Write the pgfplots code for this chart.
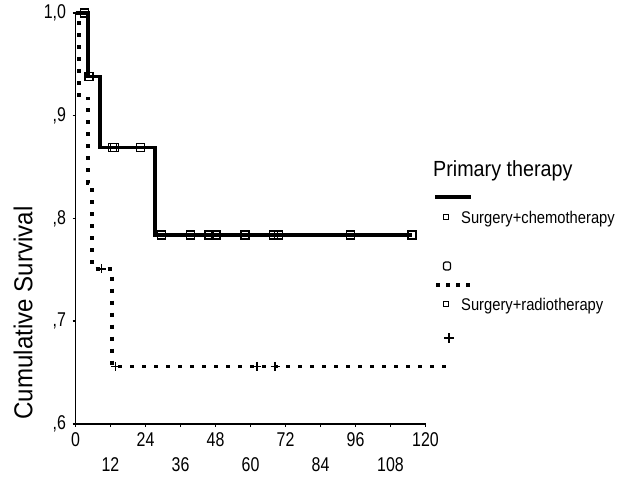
\documentclass[border=0pt]{standalone}
\usepackage{fontspec}
\setmainfont{Liberation Sans}
\newfontfamily\tickf[FakeStretch=0.8]{Liberation Sans}
\newfontfamily\legf[FakeStretch=0.87]{Liberation Sans}
\newfontfamily\titf[FakeStretch=0.9]{Liberation Sans}
\newfontfamily\labf[FakeStretch=0.93]{Liberation Sans}
\usepackage{pgfplots}
\pgfplotsset{compat=1.18}
\begin{document}
\begin{tikzpicture}[x=1bp,y=1bp]
\useasboundingbox (0,0) rectangle (633,477);
\begin{axis}[
  at={(75.5bp,53bp)}, anchor=south west,
  scale only axis, width=350bp, height=411bp,
  xmin=0, xmax=120, ymin=0.6, ymax=1.0,
  clip=false,
  axis x line*=bottom, axis y line*=left,
  axis line style={-, line width=1.2bp, black},
  xtick={0,24,...,120},
  extra x ticks={12,36,...,108},
  extra x tick style={xticklabel style={yshift=-25bp}},
  ytick={0.6,0.7,0.8,0.9,1.0},
  yticklabels={{,6},{,7},{,8},{,9},{1,0}},
  tick align=outside,
  major tick length=3bp,
  tick style={line width=1.5bp, black},
  /pgf/number format/assume math mode=true,
  xticklabel style={font=\tickf\fontsize{20}{20}\selectfont, yshift=-2bp},
  yticklabel style={font=\tickf\fontsize{20}{20}\selectfont, xshift=-3bp},
  every axis plot/.append style={line join=miter},
]
% Surgery + chemotherapy (solid)
\addplot[const plot, black, line width=3.5bp] coordinates {
  (0,1.0) (4.3,0.938) (8.4,0.869) (27.3,0.784) (115.4,0.784)
};
\addplot[only marks, mark=square, mark size=4bp,
  mark options={black, line width=1.2bp, rounded corners=2bp}] coordinates {
  (3,1.0) (4.6,0.938) (12.6,0.869) (13.3,0.869) (22.4,0.869)
  (29.4,0.784) (39.3,0.784) (45.8,0.784) (48.2,0.784) (58.1,0.784)
  (68.0,0.784) (69.7,0.784) (94.4,0.784) (115.4,0.784)
};
% Surgery + radiotherapy (dotted)
\addplot[const plot, black, line width=3.5bp, dash pattern=on 4bp off 8bp] coordinates {
  (0,1.0) (1.2,0.917) (4.3,0.834) (5.7,0.751) (12.5,0.656) (127,0.656)
};
\addplot[only marks, mark=+, mark size=4.5bp,
  mark options={black, line width=1.4bp}] coordinates {
  (8.9,0.751) (13.7,0.656) (62.2,0.656) (68.4,0.656)
};
\end{axis}
% y label
\node[rotate=90, font=\labf\fontsize{26}{26}\selectfont] at (23,164) {Cumulative Survival};
% legend
\node[anchor=base west, inner sep=0, font=\titf\fontsize{22}{22}\selectfont] at (433,300) {Primary therapy};
\draw[line width=3.5bp] (435,280) -- (471,280);
\draw[line width=0.9bp] (443,258) rectangle (448,263);
\node[anchor=base west, inner sep=0, font=\legf\fontsize{17}{17}\selectfont] at (461,253) {Surgery+chemotherapy};
\draw[line width=1.2bp, rounded corners=2bp] (443.5,207) rectangle (450.5,215);
\draw[line width=3.5bp, dash pattern=on 4bp off 6bp] (436,192) -- (471,192);
\draw[line width=0.9bp] (443.5,170.5) rectangle (448.5,175.5);
\node[anchor=base west, inner sep=0, font=\legf\fontsize{17}{17}\selectfont] at (461,166) {Surgery+radiotherapy};
\draw[line width=1.4bp] (444,139) -- (454,139) (449,134) -- (449,144);
\end{tikzpicture}
\end{document}
